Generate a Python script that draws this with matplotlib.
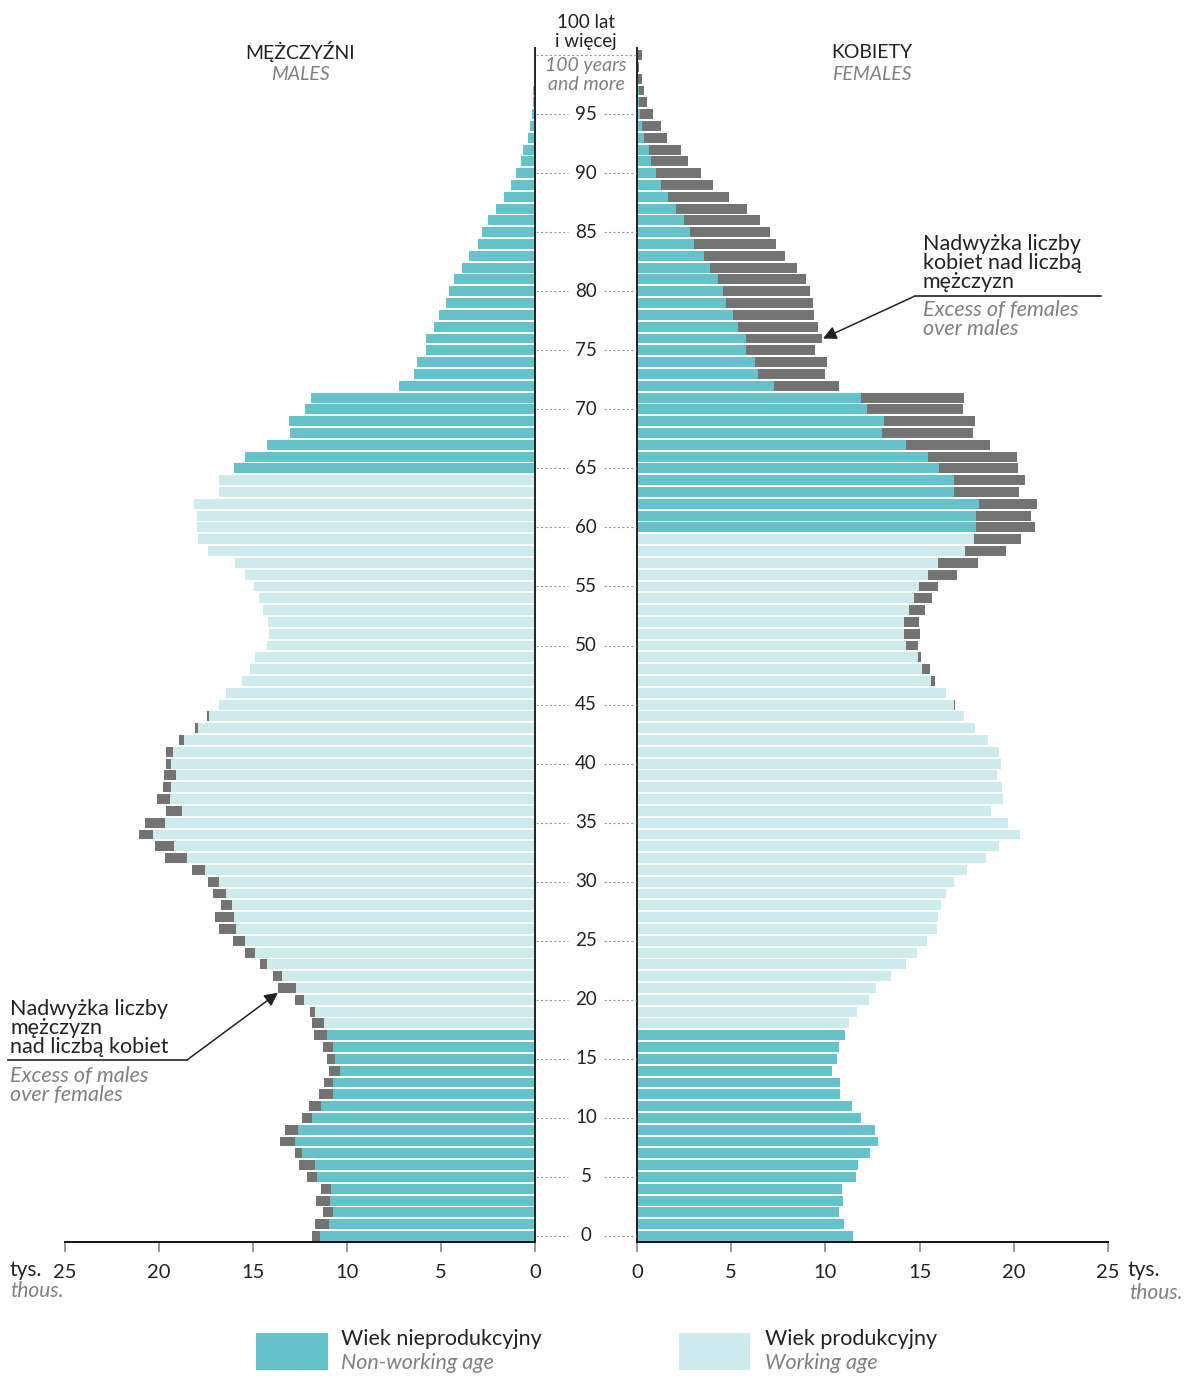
import matplotlib
matplotlib.use('Agg')
import matplotlib.pyplot as plt
from matplotlib.lines import Line2D
from matplotlib.patches import Rectangle

plt.rcParams['font.family'] = ['Lato', 'DejaVu Sans']

# population by single year of age (thousands), index = age 0..100
males = [11.86, 11.70, 11.29, 11.67, 11.38, 12.11, 12.57, 12.78, 13.56, 13.32,
         12.38, 12.00, 11.47, 11.21, 10.96, 11.05, 11.26, 11.76, 11.84, 11.98,
         12.77, 13.67, 13.92, 14.63, 15.41, 16.05, 16.79, 17.00, 16.72, 17.13,
         17.38, 18.23, 19.68, 20.20, 21.05, 20.73, 19.63, 20.12, 19.77, 19.72,
         19.63, 19.65, 18.94, 18.09, 17.45, 16.81, 16.44, 15.59, 15.14, 14.89,
         14.27, 14.15, 14.18, 14.45, 14.68, 14.96, 15.43, 15.97, 17.39, 17.91,
         17.98, 17.98, 18.14, 16.81, 16.81, 16.01, 15.43, 14.26, 13.03, 13.09,
         12.23, 11.91, 7.25, 6.44, 6.28, 5.81, 5.80, 5.35, 5.09, 4.71,
         4.57, 4.31, 3.86, 3.53, 3.01, 2.82, 2.50, 2.06, 1.67, 1.28,
         0.99, 0.76, 0.66, 0.37, 0.27, 0.18, 0.13, 0.08, 0.05, 0.02,
         0.03]
females = [11.45, 10.97, 10.74, 10.92, 10.86, 11.62, 11.71, 12.37, 12.79, 12.61,
           11.87, 11.39, 10.77, 10.77, 10.35, 10.62, 10.72, 11.04, 11.25, 11.68,
           12.31, 12.69, 13.48, 14.28, 14.88, 15.41, 15.92, 15.99, 16.14, 16.42,
           16.81, 17.53, 18.52, 19.21, 20.33, 19.69, 18.79, 19.44, 19.37, 19.11,
           19.34, 19.23, 18.65, 17.94, 17.36, 16.90, 16.42, 15.80, 15.55, 15.07,
           14.90, 15.02, 14.98, 15.30, 15.68, 15.98, 17.00, 18.10, 19.57, 20.38,
           21.14, 20.90, 21.25, 20.29, 20.58, 20.22, 20.17, 18.74, 17.85, 17.96,
           17.32, 17.36, 10.72, 10.00, 10.10, 9.45, 9.82, 9.61, 9.41, 9.32,
           9.18, 8.97, 8.51, 7.87, 7.38, 7.08, 6.53, 5.86, 4.88, 4.02,
           3.38, 2.72, 2.34, 1.61, 1.29, 0.87, 0.51, 0.37, 0.25, 0.09,
           0.25]
ages = list(range(101))
# working age: men 18-64, women 18-59
male_work = (18, 64)
female_work = (18, 59)
x_ticks = [0, 5, 10, 15, 20, 25]
age_ticks = list(range(0, 100, 5))

dark = '#66c2ca'
light = '#cdeaec'
grey = '#737373'
txt = '#222222'
itc = '#808080'

W, H = 1186, 1376
fig = plt.figure(figsize=(W / 100, H / 100), dpi=100)


def fx(x):
    return x / W


def fy(y):
    return 1 - y / H


y_bot, y_top = 1242, 48
ylim = (-0.51, 100.6)
axl = fig.add_axes([fx(65), fy(y_bot), (535 - 65) / W, (y_bot - y_top) / H])
axr = fig.add_axes([fx(637), fy(y_bot), (1108 - 637) / W, (y_bot - y_top) / H])
axc = fig.add_axes([fx(535), fy(y_bot), (637 - 535) / W, (y_bot - y_top) / H])

bh = 0.84
for a in ages:
    m, f = males[a], females[a]
    base = min(m, f)
    cm = light if male_work[0] <= a <= male_work[1] else dark
    cf = light if female_work[0] <= a <= female_work[1] else dark
    axl.barh(a, base, height=bh, color=cm, linewidth=0)
    axr.barh(a, base, height=bh, color=cf, linewidth=0)
    if m > f:
        axl.barh(a, m - f, left=f, height=bh, color=grey, linewidth=0)
    if f > m:
        axr.barh(a, f - m, left=m, height=bh, color=grey, linewidth=0)

for ax in (axl, axr):
    ax.set_ylim(*ylim)
    ax.set_yticks([])
    ax.set_xticks(x_ticks)
    ax.tick_params(axis='x', length=7, width=1.2, color='#888888', pad=9,
                   labelsize=14.5, labelcolor=txt)
    for s in ax.spines.values():
        s.set_visible(False)
    ax.spines['bottom'].set_visible(True)
    ax.spines['bottom'].set_linewidth(1.4)
    ax.spines['bottom'].set_color('#111111')
axl.set_xlim(25, 0)
axr.set_xlim(0, 25)
axl.spines['right'].set_visible(True)
axl.spines['right'].set_linewidth(1.4)
axl.spines['right'].set_color('#222222')
axr.spines['left'].set_visible(True)
axr.spines['left'].set_linewidth(1.4)
axr.spines['left'].set_color('#222222')

# centre column with age labels
axc.set_xlim(0, 102)
axc.set_ylim(*ylim)
axc.axis('off')
for a in age_ticks:
    axc.plot([1, 33], [a, a], color='#999999', lw=0.8, ls=(0, (2, 2)))
    axc.plot([69, 101], [a, a], color='#999999', lw=0.8, ls=(0, (2, 2)))
    axc.text(51, a, str(a), ha='center', va='center', fontsize=13.5, color=txt)
axc.plot([1, 101], [100, 100], color='#999999', lw=0.8, ls=(0, (2, 2)))

# top labels
fig.text(fx(586), fy(22), '100 lat', ha='center', va='center', fontsize=13.5, color=txt)
fig.text(fx(586), fy(41), 'i więcej', ha='center', va='center', fontsize=13.5, color=txt)
fig.text(fx(586), fy(65), '100 years', ha='center', va='center', fontsize=14,
         color=itc, style='italic')
fig.text(fx(586), fy(84), 'and more', ha='center', va='center', fontsize=14,
         color=itc, style='italic')

fig.text(fx(300), fy(52), 'MĘŻCZYŹNI', ha='center', va='center', fontsize=14, color=txt)
fig.text(fx(300), fy(75), 'MALES', ha='center', va='center', fontsize=14,
         color=itc, style='italic')
fig.text(fx(872), fy(52), 'KOBIETY', ha='center', va='center', fontsize=14, color=txt)
fig.text(fx(872), fy(75), 'FEMALES', ha='center', va='center', fontsize=14,
         color=itc, style='italic')

# annotation: excess of females
for i, s in enumerate(['Nadwyżka liczby', 'kobiet nad liczbą', 'mężczyzn']):
    fig.text(fx(923), fy(244 + 19 * i), s, ha='left', va='center', fontsize=15.5, color=txt)
for i, s in enumerate(['Excess of females', 'over males']):
    fig.text(fx(923), fy(310 + 19 * i), s, ha='left', va='center', fontsize=15.5,
             color=itc, style='italic')
fig.add_artist(Line2D([fx(915), fx(1101)], [fy(296), fy(296)], color=txt, lw=1.2))
axr.annotate('', xy=(females[76] + 0.05, 76), xycoords='data',
             xytext=(fx(915), fy(296)), textcoords='figure fraction',
             arrowprops=dict(arrowstyle='-|>', color=txt, lw=1.1,
                             mutation_scale=20, shrinkA=0, shrinkB=0))

# annotation: excess of males
for i, s in enumerate(['Nadwyżka liczby', 'mężczyzn', 'nad liczbą kobiet']):
    fig.text(fx(10), fy(1009 + 19 * i), s, ha='left', va='center', fontsize=15.5, color=txt)
for i, s in enumerate(['Excess of males', 'over females']):
    fig.text(fx(10), fy(1076 + 19 * i), s, ha='left', va='center', fontsize=15.5,
             color=itc, style='italic')
fig.add_artist(Line2D([fx(8), fx(187)], [fy(1060), fy(1060)], color=txt, lw=1.2))
axl.annotate('', xy=(males[21], 20.6), xycoords='data',
             xytext=(fx(187), fy(1060)), textcoords='figure fraction',
             arrowprops=dict(arrowstyle='-|>', color=txt, lw=1.1,
                             mutation_scale=20, shrinkA=0, shrinkB=0))

# units
fig.text(fx(10), fy(1270), 'tys.', ha='left', va='center', fontsize=15, color=txt)
fig.text(fx(10), fy(1291), 'thous.', ha='left', va='center', fontsize=15,
         color=itc, style='italic')
fig.text(fx(1128), fy(1270), 'tys.', ha='left', va='center', fontsize=15, color=txt)
fig.text(fx(1183), fy(1293), 'thous.', ha='right', va='center', fontsize=15,
         color=itc, style='italic')

# legend
fig.add_artist(Rectangle((fx(256), fy(1370)), 72 / W, 37 / H, transform=fig.transFigure,
                         facecolor=dark, edgecolor='none'))
fig.add_artist(Rectangle((fx(679), fy(1370)), 71 / W, 37 / H, transform=fig.transFigure,
                         facecolor=light, edgecolor='none'))
fig.text(fx(341), fy(1339), 'Wiek nieprodukcyjny', ha='left', va='center', fontsize=15.5, color=txt)
fig.text(fx(341), fy(1363), 'Non-working age', ha='left', va='center', fontsize=15.5,
         color=itc, style='italic')
fig.text(fx(765), fy(1339), 'Wiek produkcyjny', ha='left', va='center', fontsize=15.5, color=txt)
fig.text(fx(765), fy(1363), 'Working age', ha='left', va='center', fontsize=15.5,
         color=itc, style='italic')

fig.savefig('out.png', dpi=100)
